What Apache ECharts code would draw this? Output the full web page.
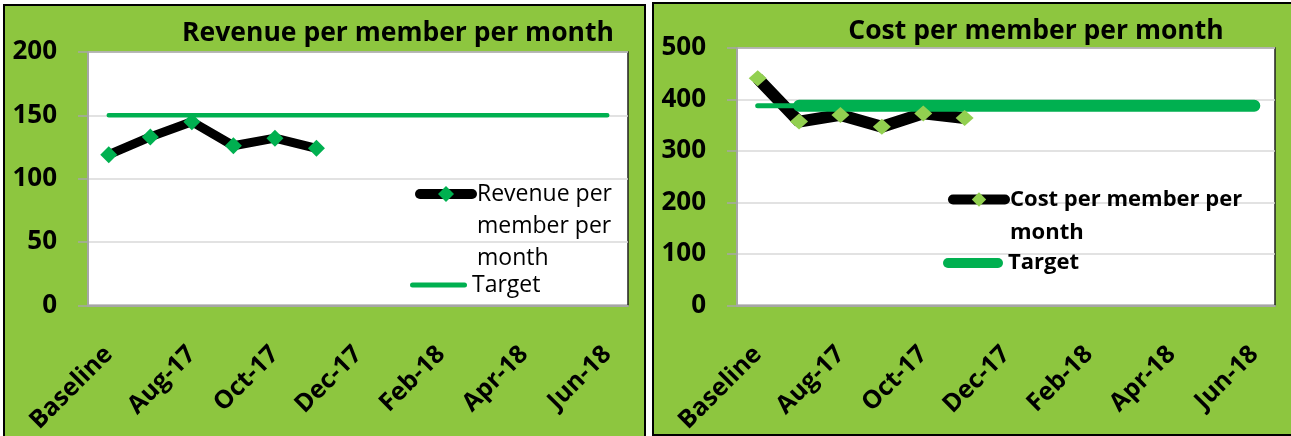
<!DOCTYPE html>
<html>
<head>
<meta charset="utf-8">
<script src="https://cdn.jsdelivr.net/npm/echarts@6/dist/echarts.min.js"></script>
<style>
  html, body { margin: 0; padding: 0; background: #fff; width: 1291px; height: 436px; overflow: hidden; }
  .panel { position: absolute; box-sizing: border-box; border: 2px solid #000; background: #8dc63f; }
  #p1 { left: 3px; top: 4px; width: 643px; height: 470px; }
  #p2 { left: 652px; top: 2px; width: 660px; height: 434px; }
  #chart { position: absolute; left: 0; top: 0; width: 1291px; height: 436px; }
</style>
</head>
<body>
<div class="panel" id="p1"></div>
<div class="panel" id="p2"></div>
<div id="chart"></div>
<script>
// data
const months = ['Baseline', 'Jul-17', 'Aug-17', 'Sep-17', 'Oct-17', 'Nov-17', 'Dec-17',
  'Jan-18', 'Feb-18', 'Mar-18', 'Apr-18', 'May-18', 'Jun-18'];
const revenue = [119, 133, 145, 126, 132, 124, null, null, null, null, null, null, null];
const revenueTarget = [150, 150, 150, 150, 150, 150, 150, 150, 150, 150, 150, 150, 150];
const cost = [441, 357, 370, 347, 373, 364, null, null, null, null, null, null, null];
// Excel drew the first target segment thinner than the rest
const costTarget = [null, 388, 388, 388, 388, 388, 388, 388, 388, 388, 388, 388, 388];
const costTargetStart = [388, 388, null, null, null, null, null, null, null, null, null, null, null];

const FONT = 'Open Sans';
const GREEN = '#00b050';
const LIGHT = '#92d050';
const pillThin = 'path://M2.5,0 L54.5,0 A2.5,2.5 0 0 1 54.5,5 L2.5,5 A2.5,2.5 0 0 1 2.5,0 Z';
const pillThick = 'path://M5,0 L55,0 A5,5 0 0 1 55,10 L5,10 A5,5 0 0 1 5,0 Z';

function xAxis(gridIndex) {
  return {
    type: 'category', gridIndex, data: months,
    axisLine: { lineStyle: { color: '#a6a6a6', width: 2 } },
    axisTick: { interval: 0, length: 9, lineStyle: { color: '#a6a6a6', width: 1.5 } },
    axisLabel: {
      interval: 1, rotate: 45, margin: 45,
      fontFamily: FONT, fontSize: 25, fontWeight: 'bold', color: '#000'
    },
    splitLine: { show: false }
  };
}

function yAxis(gridIndex, max, interval) {
  return {
    type: 'value', gridIndex, min: 0, max, interval,
    axisLine: { show: true, lineStyle: { color: '#a6a6a6', width: 2 } },
    axisTick: { show: true, length: 10, lineStyle: { color: '#a6a6a6', width: 1.5 } },
    axisLabel: { margin: 31, fontFamily: FONT, fontSize: 26, fontWeight: 'bold', color: '#000' },
    splitLine: { lineStyle: { color: '#d9d9d9', width: 1.5 } }
  };
}

function titleOf(text, left, top) {
  return {
    text, left, top, textAlign: 'center', padding: 0,
    textStyle: { fontFamily: FONT, fontSize: 26.5, fontWeight: 'bold', color: '#000' }
  };
}

const chart = echarts.init(document.getElementById('chart'));
chart.setOption({
  animation: false,
  backgroundColor: 'transparent',
  title: [
    titleOf('Revenue per member per month', 398, 20),
    titleOf('Cost per member per month', 1036, 18)
  ],
  grid: [
    { left: 88, top: 52, width: 540, height: 255, show: true, backgroundColor: '#fff', borderColor: '#222', borderWidth: 1.5 },
    { left: 737, top: 48, width: 538, height: 258, show: true, backgroundColor: '#fff', borderColor: '#222', borderWidth: 1.5 }
  ],
  xAxis: [xAxis(0), xAxis(1)],
  yAxis: [yAxis(0, 200, 50), yAxis(1, 500, 100)],
  legend: [
    {
      // leading blank lines keep the icon level with the first text line
      data: ['Revenue per member per month'], left: 415, top: 114, padding: 0,
      itemWidth: 52, itemHeight: 20, selectedMode: false,
      formatter: () => '\n\nRevenue per\nmember per\nmonth',
      textStyle: { fontFamily: FONT, fontSize: 23, color: '#000', lineHeight: 32 },
      lineStyle: { color: '#000', width: 10, cap: 'round' },
      itemStyle: { color: GREEN }
    },
    {
      data: [{ name: 'Target', icon: pillThin }], left: 410, top: 271, padding: 0,
      itemWidth: 57, itemHeight: 5, selectedMode: false,
      textStyle: { fontFamily: FONT, fontSize: 23, color: '#000', lineHeight: 28 },
      itemStyle: { color: GREEN }
    },
    {
      data: ['Cost per member per month'], left: 948, top: 150, padding: 0,
      itemWidth: 52, itemHeight: 18, selectedMode: false,
      formatter: () => '\nCost per member per\nmonth',
      textStyle: { fontFamily: FONT, fontSize: 22, fontWeight: 'bold', color: '#000', lineHeight: 33 },
      lineStyle: { color: '#000', width: 10, cap: 'round' },
      itemStyle: { color: LIGHT }
    },
    {
      data: [{ name: 'Target', icon: pillThick }], left: 943, top: 248, padding: 0,
      itemWidth: 60, itemHeight: 10, selectedMode: false,
      textStyle: { fontFamily: FONT, fontSize: 22, fontWeight: 'bold', color: '#000', lineHeight: 30 },
      itemStyle: { color: GREEN }
    }
  ],
  series: [
    {
      name: 'Revenue per member per month', type: 'line', xAxisIndex: 0, yAxisIndex: 0,
      data: revenue, symbol: 'diamond', symbolSize: 17, silent: true,
      lineStyle: { color: '#000', width: 9 }, itemStyle: { color: GREEN }
    },
    {
      name: 'Target', type: 'line', xAxisIndex: 0, yAxisIndex: 0,
      data: revenueTarget, showSymbol: false, silent: true,
      lineStyle: { color: GREEN, width: 4.5, cap: 'round' }, itemStyle: { color: GREEN }
    },
    {
      name: 'Cost per member per month', type: 'line', xAxisIndex: 1, yAxisIndex: 1,
      data: cost, symbol: 'diamond', symbolSize: [18, 16], silent: true,
      lineStyle: { color: '#000', width: 12 }, itemStyle: { color: LIGHT }
    },
    {
      name: 'Target', type: 'line', xAxisIndex: 1, yAxisIndex: 1,
      data: costTarget, showSymbol: false, silent: true,
      lineStyle: { color: GREEN, width: 12, cap: 'round' }, itemStyle: { color: GREEN }
    },
    {
      name: 'Target', type: 'line', xAxisIndex: 1, yAxisIndex: 1,
      data: costTargetStart, showSymbol: false, silent: true,
      lineStyle: { color: GREEN, width: 5, cap: 'round' }, itemStyle: { color: GREEN }
    }
  ]
});
</script>
</body>
</html>
